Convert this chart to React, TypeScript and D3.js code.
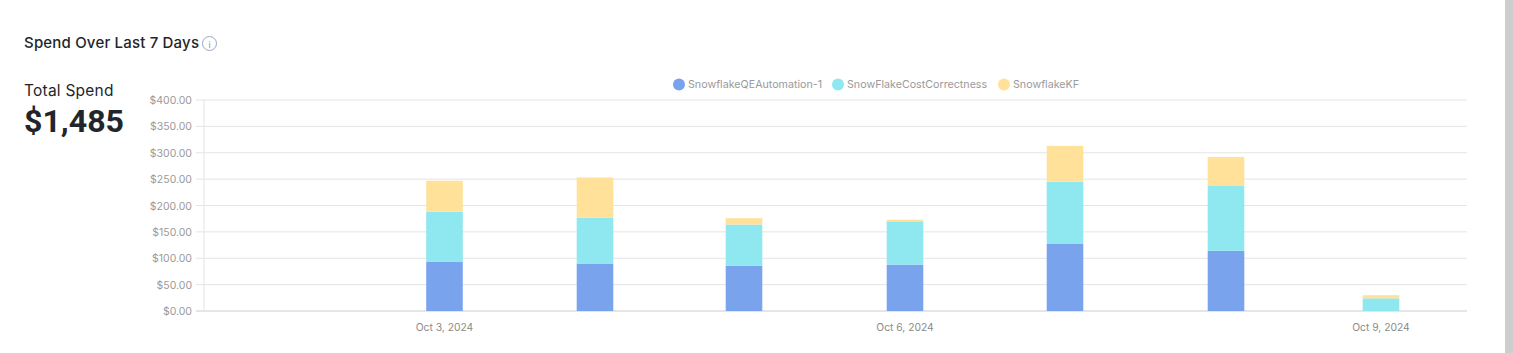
import React from "react";
import * as d3 from "d3";

const dates = ["2024-10-03", "2024-10-04", "2024-10-05", "2024-10-06", "2024-10-07", "2024-10-08", "2024-10-09"];
const qeAutomation = [93, 90, 86, 88, 127, 114, 0];
const costCorrectness = [95, 87, 78, 82, 118, 123, 24];
const kf = [59, 76, 12, 3, 68, 55, 6];
const seriesNames = ["SnowflakeQEAutomation-1", "SnowFlakeCostCorrectness", "SnowflakeKF"];
const seriesColors = ["#7aa3ee", "#8fe7ef", "#ffe19a"];
const yTicks = [0, 50, 100, 150, 200, 250, 300, 350, 400];
const xTickDates = ["2024-10-03", "2024-10-06", "2024-10-09"];
const xTickLabels = ["Oct 3, 2024", "Oct 6, 2024", "Oct 9, 2024"];
const barCenters = [444.5, 595, 744, 905, 1065, 1226, 1381];

const uiFont = "Inter, 'Noto Sans', sans-serif";

export default function App() {
  const left = 204, right = 1467, top = 100, bottom = 311;
  const parse = d3.utcParse("%Y-%m-%d");
  const x = d3.scaleUtc().domain(dates.map((d) => parse(d) as Date)).range(barCenters);
  const y = d3.scaleLinear().domain([0, 400]).range([bottom, top]);
  const rows = dates.map((d, i) => ({ d, a: qeAutomation[i], b: costCorrectness[i], c: kf[i] }));
  const stacked = d3.stack<any>().keys(["a", "b", "c"])(rows);
  const money = d3.format("$,.2f");
  const barW = 36.6;

  const legend = [
    { cx: 679, tx: 688 },
    { cx: 838, tx: 847 },
    { cx: 1004, tx: 1013 },
  ];

  return (
    <svg
      width={1513}
      height={353}
      style={{ position: "absolute", left: 0, top: 0, display: "block", background: "#fff" }}
    >
      <rect x={1505} y={0} width={8} height={353} fill="#cdcdcd" />
      <text x={24} y={48} fontFamily={uiFont} fontSize={15} fontWeight={500} textLength={175} lengthAdjust="spacing" fill="#22262b">
        Spend Over Last 7 Days
      </text>
      <circle cx={209.5} cy={43.5} r={7} fill="none" stroke="#9aa5bf" strokeWidth={1} />
      <text x={209.5} y={47.5} textAnchor="middle" fontFamily={uiFont} fontSize={9} fill="#8a95ad">
        i
      </text>
      <text x={24} y={96} fontFamily={uiFont} fontSize={15.5} fontWeight={400} textLength={89.5} lengthAdjust="spacing" fill="#22262b">
        Total Spend
      </text>
      <text x={24} y={132} fontFamily="Roboto, sans-serif" fontSize={32} fontWeight={700} textLength={100} lengthAdjust="spacingAndGlyphs" fill="#22262b">
        $1,485
      </text>

      {yTicks.map((t) => (
        <g key={t}>
          <line x1={196} x2={right} y1={y(t)} y2={y(t)} stroke={t === 0 ? "#cccccc" : "#e4e4e4"} />
          <text x={192} y={y(t) + 4} textAnchor="end" fontFamily={uiFont} fontSize={10.5} fill="#9a9a9a">
            {money(t)}
          </text>
        </g>
      ))}
      <line x1={left} x2={left} y1={top} y2={bottom} stroke="#e4e4e4" />

      {stacked.map((s, si) => (
        <g key={si} fill={seriesColors[si]}>
          {s.map((p, i) => {
            const h = y(p[0]) - y(p[1]);
            if (h <= 0) return null;
            return <rect key={i} x={x(parse(dates[i]) as Date) - barW / 2} y={y(p[1])} width={barW} height={h} />;
          })}
        </g>
      ))}

      {xTickDates.map((d, i) => (
        <text
          key={d}
          x={x(parse(d) as Date)}
          y={331}
          textAnchor="middle"
          fontFamily={uiFont}
          fontSize={10.3}
          fill="#8a8a8a"
        >
          {xTickLabels[i]}
        </text>
      ))}

      {seriesNames.map((name, i) => (
        <g key={name}>
          <circle cx={legend[i].cx} cy={84.5} r={6} fill={seriesColors[i]} />
          <text x={legend[i].tx} y={88} fontFamily={uiFont} fontSize={10.7} fill="#9a9a9a">
            {name}
          </text>
        </g>
      ))}
    </svg>
  );
}
